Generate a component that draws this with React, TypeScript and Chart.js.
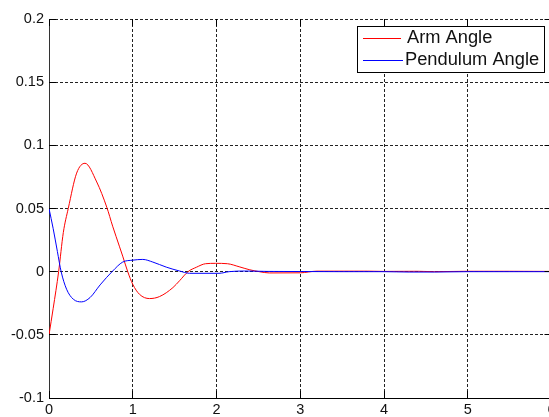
import React, { useEffect, useRef } from "react";
import { Chart, registerables } from "chart.js";

Chart.register(...registerables);

// ---- data ----
const armTime = [0, 0.05, 0.115, 0.171, 0.23, 0.33, 0.43, 0.57, 0.69, 0.76, 0.8, 0.88, 0.94, 1.0, 1.08, 1.2, 1.32, 1.48, 1.56, 1.66, 1.76, 1.87, 1.99, 2.13, 2.27, 2.39, 2.51, 2.63, 3.0, 3.2, 3.8, 4.0, 4.4, 4.6, 5.0, 5.5, 6.0];
const armAngle = [-0.05, -0.029, 0, 0.031, 0.05, 0.078, 0.0858, 0.071, 0.051, 0.036, 0.028, 0.0123, 0, -0.01, -0.0179, -0.0213, -0.0197, -0.0126, -0.0071, 0, 0.0035, 0.0063, 0.0066, 0.0063, 0.0039, 0.0016, 0, -0.001, -0.0009, 0.0004, 0.0004, 0.0002, 0.0003, 0, 0.0003, 0.0003, 0.0002];

const pendulumTime = [0, 0.05, 0.1, 0.145, 0.21, 0.29, 0.39, 0.49, 0.61, 0.76, 0.88, 1.0, 1.12, 1.24, 1.4, 1.56, 1.68, 2.03, 2.15, 2.33, 2.6, 3.0, 3.5, 4.0, 4.3, 4.6, 5.0, 6.0];
const pendulumAngle = [0.05, 0.034, 0.016, 0, -0.0139, -0.0218, -0.0239, -0.0205, -0.0105, 0.0005, 0.0076, 0.0091, 0.0097, 0.0076, 0.0036, 0.0005, -0.0013, -0.0013, 0, 0.0005, 0.0002, 0.0001, 0, 0, -0.0003, -0.0003, 0, 0];

const xTicks = [0, 1, 2, 3, 4, 5, 6];
const xTickLabels = ["0", "1", "2", "3", "4", "5", "6"];
const yTicks = [-0.1, -0.05, 0, 0.05, 0.1, 0.15, 0.2];
const yTickLabels = ["-0.1", "-0.05", "0", "0.05", "0.1", "0.15", "0.2"];

const seriesLabels = ["Arm Angle", "Pendulum Angle"];
const seriesColors = ["#ff0000", "#0000ff"];

const FONT = "'Liberation Sans', Arial, sans-serif";

const innerTicks = {
  id: "innerTicks",
  afterDraw(chart: any) {
    const { ctx, chartArea: a, scales } = chart;
    const x = scales.x;
    const y = scales.y;
    const L = 7;
    ctx.save();
    ctx.strokeStyle = "#000";
    ctx.lineWidth = 1;
    ctx.setLineDash([]);
    ctx.beginPath();
    xTicks.forEach((v) => {
      const px = Math.round(x.getPixelForValue(v) - 0.5) + 0.5;
      ctx.moveTo(px, a.bottom);
      ctx.lineTo(px, a.bottom - L);
      ctx.moveTo(px, a.top);
      ctx.lineTo(px, a.top + L);
    });
    yTicks.forEach((v) => {
      const py = Math.round(y.getPixelForValue(v) - 0.5) + 0.5;
      ctx.moveTo(a.left, py);
      ctx.lineTo(a.left + L, py);
      ctx.moveTo(a.right, py);
      ctx.lineTo(a.right - L, py);
    });
    ctx.stroke();
    ctx.restore();
  },
};

const boxLegend = {
  id: "boxLegend",
  afterDraw(chart: any) {
    const { ctx } = chart;
    ctx.save();
    ctx.setLineDash([]);
    ctx.fillStyle = "#ffffff";
    ctx.fillRect(357, 26, 188, 47);
    ctx.strokeStyle = "#000";
    ctx.lineWidth = 1;
    ctx.strokeRect(357.5, 26.5, 187, 46);
    const rows = [
      { lineY: 38.5, x2: 401, baseY: 43, textX: 407 },
      { lineY: 60.5, x2: 403, baseY: 65, textX: 405 },
    ];
    rows.forEach((r, i) => {
      ctx.strokeStyle = seriesColors[i];
      ctx.beginPath();
      ctx.moveTo(363, r.lineY);
      ctx.lineTo(r.x2, r.lineY);
      ctx.stroke();
      ctx.fillStyle = "#111";
      ctx.font = `18.3px ${FONT}`;
      ctx.textAlign = "left";
      ctx.textBaseline = "alphabetic";
      ctx.fillText(seriesLabels[i], r.textX, r.baseY);
    });
    ctx.restore();
  },
};

export default function App() {
  const ref = useRef<HTMLCanvasElement | null>(null);

  useEffect(() => {
    if (!ref.current) return;
    const tickFont = { family: FONT, size: 14.5 };
    const chart = new Chart(ref.current, {
      type: "line",
      data: {
        datasets: [
          {
            label: seriesLabels[0],
            data: armTime.map((t, i) => ({ x: t, y: armAngle[i] })),
            borderColor: seriesColors[0],
            borderWidth: 1,
            pointRadius: 0,
            fill: false,
            cubicInterpolationMode: "monotone",
            order: 1,
          },
          {
            label: seriesLabels[1],
            data: pendulumTime.map((t, i) => ({ x: t, y: pendulumAngle[i] })),
            borderColor: seriesColors[1],
            borderWidth: 1,
            pointRadius: 0,
            fill: false,
            cubicInterpolationMode: "monotone",
            order: 0,
          },
        ],
      },
      options: {
        responsive: false,
        animation: false,
        events: [],
        layout: { padding: { top: 19, right: 8.5, bottom: 0, left: 0 } },
        plugins: {
          legend: { display: false },
          tooltip: { enabled: false },
        },
        scales: {
          x: {
            type: "linear",
            min: 0,
            max: 6,
            afterBuildTicks: (s: any) => {
              s.ticks = xTicks.map((v) => ({ value: v }));
            },
            afterFit: (s: any) => {
              s.height = 19;
            },
            ticks: {
              callback: (_v: any, i: number) => xTickLabels[i],
              font: tickFont,
              color: "#111",
              padding: 3,
              maxRotation: 0,
              autoSkip: false,
            },
            grid: { color: "#222", lineWidth: 1, drawTicks: false },
            border: { display: true, color: "#000", width: 1, dash: [3, 2] },
          },
          y: {
            type: "linear",
            min: -0.1,
            max: 0.2,
            afterBuildTicks: (s: any) => {
              s.ticks = yTicks.map((v) => ({ value: v }));
            },
            afterFit: (s: any) => {
              s.width = 49;
            },
            ticks: {
              callback: (_v: any, i: number) => yTickLabels[i],
              font: tickFont,
              color: "#111",
              padding: 5,
              autoSkip: false,
            },
            grid: { color: "#222", lineWidth: 1, drawTicks: false },
            border: { display: true, color: "#333", width: 1, dash: [3, 2] },
          },
        },
      },
      plugins: [innerTicks, boxLegend],
    } as any);
    return () => chart.destroy();
  }, []);

  return (
    <div
      style={{
        position: "fixed",
        left: 0,
        top: 0,
        width: 549,
        height: 417,
        overflow: "hidden",
        background: "#fff",
      }}
    >
      <canvas ref={ref} width={560} height={417} style={{ display: "block" }} />
    </div>
  );
}
